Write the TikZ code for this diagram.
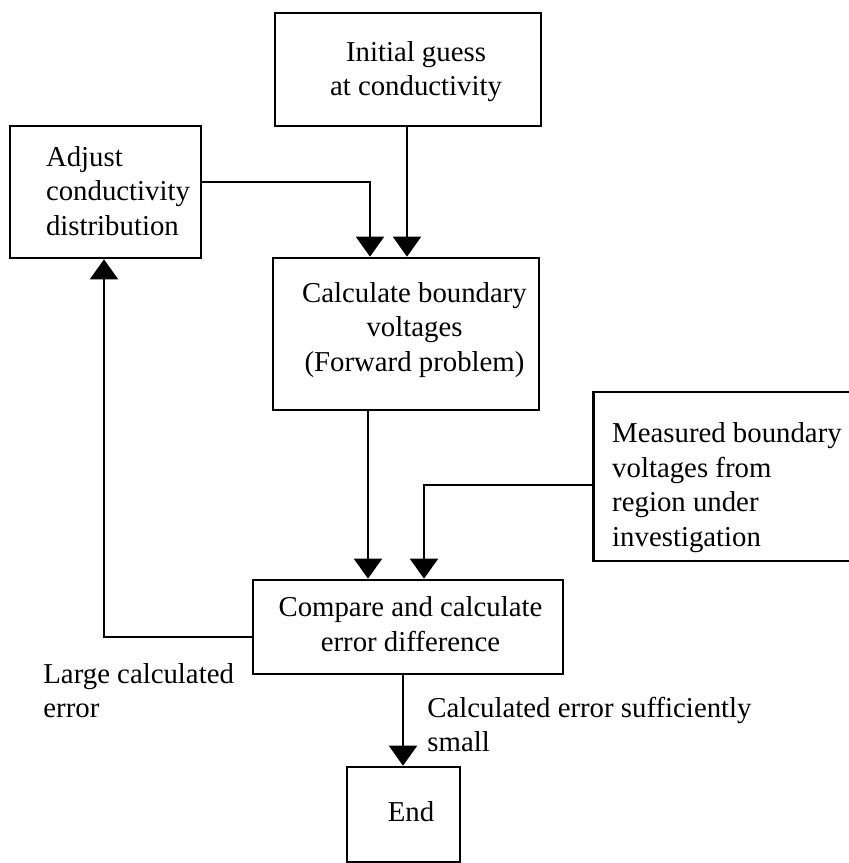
\documentclass[tikz,border=0pt]{standalone}
\usepackage{fontspec}
\setmainfont{Liberation Serif}
\usetikzlibrary{arrows.meta}
\begin{document}
\begin{tikzpicture}[x=0.5pt,y=-0.5pt,
  txtfont/.style={font=\fontsize{14.4pt}{17.3pt}\selectfont},
  box/.style={draw, line width=1.3pt, inner sep=0pt, txtfont},
  lbl/.style={inner sep=0pt, txtfont},
  conn/.style={line width=0.9pt},
  arr/.style={conn, -{Triangle[width=14pt,length=10pt]}}]
\useasboundingbox (0,0) rectangle (849,863);

\node[box, minimum width=133pt, minimum height=56.5pt] (initial) at (408,69.5)
  {\raisebox{-1pt}[\height][\depth]{\begin{tabular}{@{\hspace{8pt}}c@{}}Initial guess\\at conductivity\end{tabular}}};
\node[box, minimum width=95.5pt, minimum height=66pt] (adjust) at (105.5,192)
  {\raisebox{-1pt}[\height][\depth]{\begin{tabular}{@{\hspace{12.5pt}}l@{}}Adjust\\conductivity\\distribution\end{tabular}}};
\node[box, minimum width=133pt, minimum height=76pt] (calc) at (406,334)
  {\raisebox{2pt}[\height][\depth]{\begin{tabular}{@{\hspace{8.5pt}}c@{}}Calculate boundary\\voltages\\(Forward problem)\end{tabular}}};
\node[box, minimum width=139pt, minimum height=84.5pt] (measured) at (732.5,476.5)
  {\raisebox{-5.5pt}[\height][\depth]{\begin{tabular}{@{}l@{\hspace{5.5pt}}}Measured boundary\\voltages from\\region under\\investigation\end{tabular}}};
\node[box, minimum width=155pt, minimum height=47pt] (compare) at (408,627)
  {\begin{tabular}{@{\hspace{2.5pt}}c@{}}Compare and calculate\\error difference\end{tabular}};
\node[box, minimum width=56.5pt, minimum height=47.5pt] (end) at (403.5,814.5)
  {\begin{tabular}{@{\hspace{7.5pt}}c@{}}End\end{tabular}};

\node[lbl, anchor=base west] (large) at (43,683)
  {\begin{tabular}[t]{@{}l@{}}Large calculated\\error\end{tabular}};
\node[lbl, anchor=base west] (small) at (427,717)
  {\begin{tabular}[t]{@{}l@{}}Calculated error sufficiently\\small\end{tabular}};

\coordinate (ja) at (370,182);
\coordinate (jb) at (407,0);
\coordinate (jc) at (368,0);
\coordinate (jd) at (424,485);
\coordinate (je) at (104,637);
\coordinate (jf) at (403,0);

\draw[arr] (adjust.east |- ja) -| (calc.north -| ja);
\draw[arr] (initial.south -| jb) -- (calc.north -| jb);
\draw[arr] (calc.south -| jc) -- (compare.north -| jc);
\draw[arr] (measured.west |- jd) -| (compare.north -| jd);
\draw[arr] (compare.west |- je) -| (adjust.south -| je);
\draw[arr] (compare.south -| jf) -- (end.north -| jf);
\end{tikzpicture}
\end{document}
